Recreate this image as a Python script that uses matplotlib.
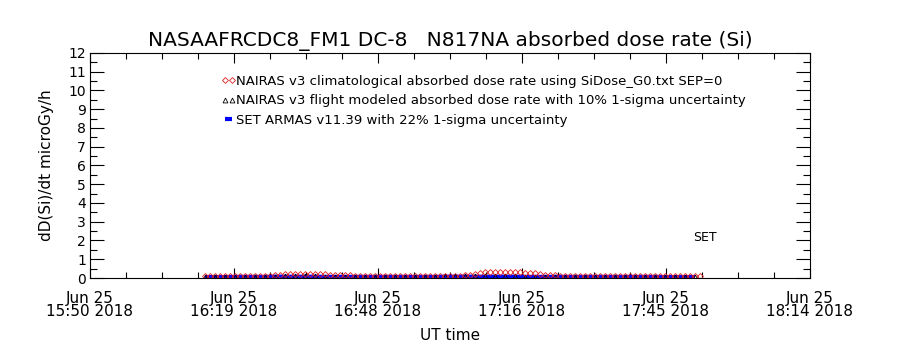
#NAIRAS / ARMAS absorbed dose rate along the DC-8 flight
import numpy as np
import matplotlib as mpl
mpl.use('Agg')
import matplotlib.pyplot as plt

title = "NASAAFRCDC8_FM1 DC-8   N817NA absorbed dose rate (Si)"

# x in minutes after Jun 25 2018 15:50 UT
tick_min = [0, 28.8, 57.6, 86.4, 115.2, 144]
tick_lab = ["Jun 25\n15:50 2018", "Jun 25\n16:19 2018", "Jun 25\n16:48 2018",
            "Jun 25\n17:16 2018", "Jun 25\n17:45 2018", "Jun 25\n18:14 2018"]

# NAIRAS climatological, one point a minute from 16:13 to 17:52
clim_t0, clim_dt = 23, 1
clim = [0.10, 0.10, 0.11, 0.11, 0.11, 0.12, 0.12, 0.12, 0.12, 0.12, 0.12, 0.13, 0.13, 0.13, 0.14,
        0.17, 0.20, 0.22, 0.24, 0.24, 0.24, 0.23, 0.24, 0.22, 0.20, 0.16,
        0.14, 0.16, 0.17, 0.14, 0.13, 0.13, 0.13, 0.13, 0.13, 0.13, 0.12, 0.12, 0.12, 0.12,
        0.12, 0.12, 0.12, 0.12, 0.12, 0.12, 0.12, 0.12, 0.13, 0.13, 0.13, 0.13, 0.14,
        0.17, 0.22, 0.27, 0.31, 0.33, 0.34, 0.33, 0.32, 0.32, 0.31, 0.30, 0.28, 0.27, 0.25,
        0.22, 0.18, 0.15,
        0.14, 0.13, 0.13, 0.13, 0.13, 0.12, 0.12, 0.12, 0.12, 0.12, 0.12, 0.12, 0.12, 0.12,
        0.12, 0.12, 0.12, 0.12, 0.12, 0.12, 0.12, 0.12, 0.12, 0.12, 0.12, 0.11, 0.11, 0.11,
        0.11, 0.11]

# NAIRAS flight modeled and SET ARMAS, every 2 minutes
flt_t0, flt_dt = 23, 2
flight = [0.07, 0.07, 0.07, 0.07, 0.08, 0.08, 0.08, 0.08, 0.09, 0.09, 0.09, 0.09, 0.08,
          0.08, 0.08, 0.08, 0.08, 0.08, 0.08, 0.08, 0.08, 0.08, 0.08, 0.08, 0.09, 0.09,
          0.09, 0.09, 0.09, 0.09, 0.09, 0.09, 0.08, 0.08, 0.08, 0.08, 0.08, 0.08, 0.08,
          0.08, 0.08, 0.08, 0.08, 0.08, 0.08, 0.08, 0.07, 0.07, 0.07, 0.07]
armas = [0.05, 0.05, 0.05, 0.06, 0.06, 0.06, 0.06, 0.07, 0.07, 0.07, 0.07, 0.07, 0.06,
         0.06, 0.06, 0.06, 0.06, 0.06, 0.06, 0.06, 0.06, 0.06, 0.06, 0.06, 0.07, 0.07,
         0.07, 0.07, 0.07, 0.07, 0.07, 0.07, 0.06, 0.06, 0.06, 0.06, 0.06, 0.06, 0.06,
         0.06, 0.06, 0.06, 0.06, 0.06, 0.06, 0.06, 0.05, 0.05, 0.05, 0.05]

clim_t = clim_t0 + clim_dt*np.arange(len(clim))
flt_t = flt_t0 + flt_dt*np.arange(len(flight))

mpl.rcParams['font.family'] = 'DejaVu Sans'
mpl.rcParams['axes.linewidth'] = 0.8

fig = plt.figure(figsize=(9, 3.5), dpi=100)
ax = fig.add_axes([0.1, 0.2057, 0.8, 0.643])

ax.plot(flt_t, armas, '-', color='#0000ff', lw=3, solid_capstyle='butt',
        label='SET ARMAS v11.39 with 22% 1-sigma uncertainty')
ax.plot(flt_t, flight, '^', color='black', ms=3.5, mfc='none', mew=0.6,
        label='NAIRAS v3 flight modeled absorbed dose rate with 10% 1-sigma uncertainty')
ax.plot(clim_t, clim, 'D', color='#e02020', ms=3, mfc='none', mew=0.6,
        label='NAIRAS v3 climatological absorbed dose rate using SiDose_G0.txt SEP=0')

ax.set_xlim(0, 144)
ax.set_ylim(0, 12)
ax.set_xticks(tick_min)
ax.set_xticklabels(tick_lab, fontsize=11, linespacing=0.9)
ax.set_xticks(np.arange(0, 144.1, 7.2), minor=True)
ax.set_yticks(range(13))
ax.set_yticklabels([str(v) for v in range(13)], fontsize=10)
ax.set_yticks(np.arange(0, 12.1, 0.5), minor=True)
ax.tick_params(axis='x', which='major', direction='in', length=7, width=0.8, top=True, pad=9)
ax.tick_params(axis='x', which='minor', direction='in', length=4, width=0.8, top=True)
ax.tick_params(axis='y', which='major', direction='in', length=10, width=0.8, right=True, pad=3)
ax.tick_params(axis='y', which='minor', direction='in', length=5, width=0.8, right=True)

ax.set_title(title, fontsize=14.5, pad=5)
ax.set_xlabel('UT time', fontsize=11, labelpad=6)
ax.set_ylabel('dD(Si)/dt microGy/h', fontsize=11, labelpad=10)
ax.text(0.8375, 0.182, 'SET', transform=ax.transAxes, fontsize=9, va='center')

h, l = ax.get_legend_handles_labels()
ax.legend(h[::-1], l[::-1], loc='upper left', bbox_to_anchor=(0.182, 0.904),
          frameon=False, fontsize=9.5, numpoints=2, handlelength=1.1, handletextpad=0.0,
          borderpad=0, borderaxespad=0, labelspacing=0.5, markerscale=1.0)

plt.savefig('out.png', dpi=100)
